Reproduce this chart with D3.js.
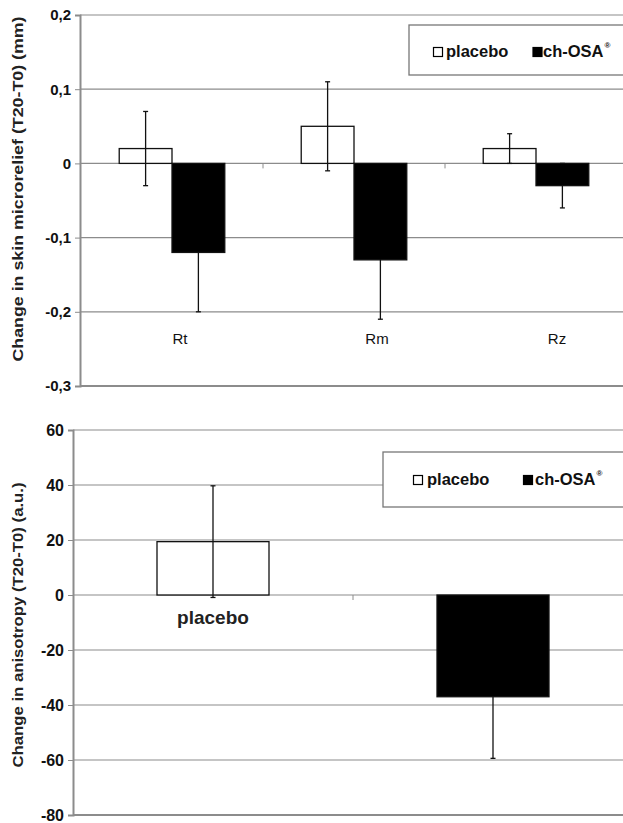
<!DOCTYPE html>
<html>
<head>
<meta charset="utf-8">
<script src="https://cdn.jsdelivr.net/npm/d3@7"></script>
<style>
  body { margin: 0; background: #fff; }
  svg { display: block; font-family: Arial, "Liberation Sans", sans-serif; }
</style>
</head>
<body>
<svg width="623" height="823"></svg>
<script>
// top panel: skin microrelief
var params = ["Rt", "Rm", "Rz"];
var series = ["placebo", "ch-OSA"];
var placeboRelief = [0.02, 0.05, 0.02];
var placeboReliefErr = [0.05, 0.06, 0.02];
var osaRelief = [-0.12, -0.13, -0.03];
var osaReliefErr = [0.08, 0.08, 0.03];
var reliefTicks = [0.2, 0.1, 0, -0.1, -0.2, -0.3];

// bottom panel: anisotropy
var groups = ["placebo", "ch-OSA"];
var anisotropy = [19.4, -37];
var anisotropyErr = [20.3, 22.4];
var anisoTicks = [60, 40, 20, 0, -20, -40, -60, -80];

var svg = d3.select("svg");
var gridColor = "#8c8c8c";
var errColor = "#111";

// excel style: comma decimals, plain hyphen for minus
function fmtComma(d) { return d === 0 ? "0" : d.toFixed(1).replace(".", ","); }
function fmtInt(d) { return String(d); }

function errorBars(g, rows, xf, yf) {
    var eb = g.selectAll(null).data(rows).enter().append("g");
    eb.append("line")
        .attr("x1", xf).attr("x2", xf)
        .attr("y1", function(d) { return yf(d.v + d.e); })
        .attr("y2", function(d) { return yf(d.v - d.e); })
        .style("stroke", errColor).style("stroke-width", 1.3);
    [1, -1].forEach(function(sgn) {
        eb.append("line")
            .attr("x1", function(d) { return xf(d) - 2.5; })
            .attr("x2", function(d) { return xf(d) + 2.5; })
            .attr("y1", function(d) { return yf(d.v + sgn * d.e); })
            .attr("y2", function(d) { return yf(d.v + sgn * d.e); })
            .style("stroke", errColor).style("stroke-width", 1.3);
    });
}

function legend(g, bx, by, bh, items) {
    g.append("rect").attr("x", bx).attr("y", by).attr("width", 260).attr("height", bh)
        .style("fill", "#fff").style("stroke", "#777").style("stroke-width", 1.3);
    items.forEach(function(it) {
        g.append("rect").attr("x", it.sx).attr("y", it.base - 9.5).attr("width", 9).attr("height", 9)
            .style("fill", it.fill).style("stroke", "#000").style("stroke-width", 1.2);
        var t = g.append("text").attr("x", it.tx).attr("y", it.base)
            .style("font-size", "16.5px").style("font-weight", "bold").style("fill", "#111");
        t.append("tspan").text(it.label);
        if (it.sup) t.append("tspan").attr("dy", -9).attr("dx", 1).style("font-size", "8px").text("\u00ae");
    });
}

// ---------- top chart ----------
var y1 = d3.scaleLinear().domain([-0.3, 0.2]).range([386, 15]);
var x0 = d3.scaleBand().domain(params).range([81, 627]);
var off = x0.bandwidth() * 0.21;
var x1 = d3.scaleBand().domain(series).range([off, x0.bandwidth() - off]);

var topG = svg.append("g");

topG.selectAll("line.grid").data(reliefTicks).enter().append("line")
    .attr("x1", 80).attr("x2", 623)
    .attr("y1", function(d) { return y1(d); }).attr("y2", function(d) { return y1(d); })
    .style("stroke", gridColor).style("stroke-width", d => d === -0.3 ? 2 : 1.2);

topG.append("g")
    .attr("transform", "translate(80,0)")
    .call(d3.axisLeft(y1).tickValues(reliefTicks).tickFormat(fmtComma).tickSize(5).tickPadding(4))
    .call(function(g) {
        g.select(".domain").style("stroke", gridColor).style("stroke-width", 2);
        g.selectAll(".tick line").style("stroke", gridColor);
        g.selectAll("text").style("font-size", "15px").style("font-weight", "bold").style("fill", "#111");
    });

// category ticks at zero line
topG.selectAll("line.ctick").data(params.slice(1)).enter().append("line")
    .attr("x1", function(d) { return x0(d); }).attr("x2", function(d) { return x0(d); })
    .attr("y1", y1(0)).attr("y2", y1(0) + 5)
    .style("stroke", gridColor).style("stroke-width", 1);

var labelDx = [8, 23, 21];
topG.selectAll("text.cat").data(params).enter().append("text")
    .attr("x", function(d, i) { return x0(d) + x0.bandwidth() / 2 + labelDx[i]; })
    .attr("y", 344)
    .attr("text-anchor", "middle")
    .style("font-size", "15px").style("fill", "#111")
    .text(function(d) { return d; });

var reliefRows = [];
params.forEach(function(p, i) {
    reliefRows.push({cat: p, s: "placebo", v: placeboRelief[i], e: placeboReliefErr[i]});
    reliefRows.push({cat: p, s: "ch-OSA", v: osaRelief[i], e: osaReliefErr[i]});
});
var reliefX = function(d) { return x0(d.cat) + x1(d.s) + x1.bandwidth() / 2; };

// ch-OSA whiskers go under their bars, placebo whiskers show through the white bars
errorBars(topG, reliefRows.filter(d => d.s === "ch-OSA"), reliefX, y1);

topG.selectAll("rect.bar").data(reliefRows).enter().append("rect")
    .attr("x", function(d) { return x0(d.cat) + x1(d.s); })
    .attr("width", x1.bandwidth())
    .attr("y", function(d) { return y1(Math.max(0, d.v)); })
    .attr("height", function(d) { return Math.abs(y1(d.v) - y1(0)); })
    .style("fill", function(d) { return d.s === "placebo" ? "#fff" : "#000"; })
    .style("stroke", "#111").style("stroke-width", 1.3);

errorBars(topG, reliefRows.filter(d => d.s === "placebo"), reliefX, y1);

// axis title
topG.append("text")
    .attr("transform", "translate(23,189) rotate(-90)")
    .attr("text-anchor", "middle")
    .attr("textLength", 345).attr("lengthAdjust", "spacingAndGlyphs")
    .style("font-size", "15px").style("font-weight", "bold").style("fill", "#222")
    .text("Change in skin microrelief (T20-T0) (mm)");

legend(topG, 409, 25, 50, [
    {sx: 433.5, tx: 446, base: 57, fill: "#fff", label: "placebo"},
    {sx: 533, tx: 543, base: 57, fill: "#000", label: "ch-OSA", sup: true}
]);

// ---------- bottom chart ----------
var y2 = d3.scaleLinear().domain([-80, 60]).range([815, 430]);
var xb = d3.scaleBand().domain(groups).range([73, 633]);
var barW = xb.bandwidth() * 0.4;

var botG = svg.append("g");

botG.selectAll("line.grid").data(anisoTicks).enter().append("line")
    .attr("x1", 73).attr("x2", 623)
    .attr("y1", function(d) { return y2(d); }).attr("y2", function(d) { return y2(d); })
    .style("stroke", gridColor).style("stroke-width", d => d === -80 ? 2 : 1.2);

botG.append("g")
    .attr("transform", "translate(73,0)")
    .call(d3.axisLeft(y2).tickValues(anisoTicks).tickFormat(fmtInt).tickSize(5).tickPadding(4))
    .call(function(g) {
        g.select(".domain").style("stroke", gridColor).style("stroke-width", 2);
        g.selectAll(".tick line").style("stroke", gridColor);
        g.selectAll("text").style("font-size", "16px").style("font-weight", "bold").style("fill", "#111");
    });

botG.append("line")
    .attr("x1", xb("ch-OSA")).attr("x2", xb("ch-OSA"))
    .attr("y1", y2(0)).attr("y2", y2(0) + 5)
    .style("stroke", gridColor).style("stroke-width", 1);

// category labels (the ch-OSA one sits behind its bar)
botG.selectAll("text.cat").data(groups).enter().append("text")
    .attr("x", function(d) { return xb(d) + xb.bandwidth() / 2; })
    .attr("y", 624)
    .attr("text-anchor", "middle")
    .style("font-size", "19px").style("font-weight", "bold").style("fill", "#222")
    .text(function(d) { return d; });

var anisoRows = groups.map(function(g, i) { return {cat: g, v: anisotropy[i], e: anisotropyErr[i]}; });
var anisoX = function(d) { return xb(d.cat) + xb.bandwidth() / 2; };

errorBars(botG, anisoRows.filter(d => d.cat === "ch-OSA"), anisoX, y2);

botG.selectAll("rect.bar").data(anisoRows).enter().append("rect")
    .attr("x", function(d) { return xb(d.cat) + (xb.bandwidth() - barW) / 2; })
    .attr("width", barW)
    .attr("y", function(d) { return y2(Math.max(0, d.v)); })
    .attr("height", function(d) { return Math.abs(y2(d.v) - y2(0)); })
    .style("fill", function(d) { return d.cat === "placebo" ? "#fff" : "#000"; })
    .style("stroke", "#111").style("stroke-width", 1.3);

errorBars(botG, anisoRows.filter(d => d.cat === "placebo"), anisoX, y2);

botG.append("text")
    .attr("transform", "translate(23,625) rotate(-90)")
    .attr("text-anchor", "middle")
    .attr("textLength", 285).attr("lengthAdjust", "spacingAndGlyphs")
    .style("font-size", "15px").style("font-weight", "bold").style("fill", "#222")
    .text("Change in anisotropy (T20-T0) (a.u.)");

legend(botG, 383, 452, 55, [
    {sx: 413.5, tx: 427, base: 485, fill: "#fff", label: "placebo"},
    {sx: 523.5, tx: 535, base: 485, fill: "#000", label: "ch-OSA", sup: true}
]);
</script>
</body>
</html>
